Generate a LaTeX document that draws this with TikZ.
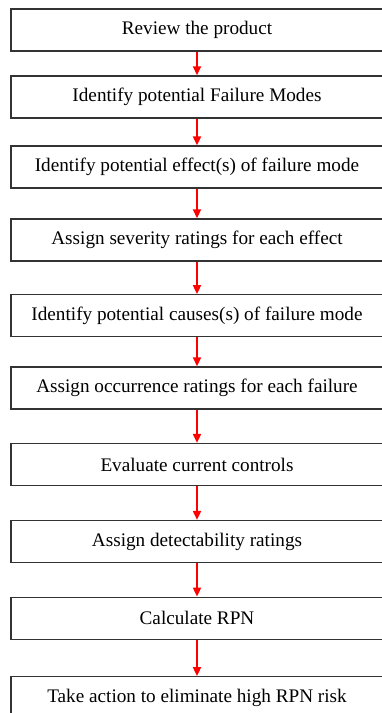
\documentclass[tikz,border=0pt]{standalone}
\usepackage{fontspec}
\setmainfont{Liberation Serif}
\usetikzlibrary{positioning,arrows.meta}
\tikzset{every picture/.style={line width=1.2pt}}
\tikzset{stepbox/.style={draw=black!80, rectangle, minimum width=372pt, minimum height=42pt, inner sep=0pt}}

\begin{document}
\begin{tikzpicture}[x=1pt, y=-1pt, >={Triangle[length=9pt, width=8pt]}, every node/.style={font=\fontsize{19.2}{22}\selectfont}]
        \useasboundingbox (0, 0) rectangle (381, 713);
        \node[stepbox] (review)   at (197, 30)    {Review the product};
        \node[stepbox] (modes)    at (197, 96.9)  {Identify potential Failure Modes};
        \node[stepbox] (effects)  at (197, 167)   {Identify potential effect(s) of failure mode};
        \node[stepbox] (severity) at (197, 239.9) {Assign severity ratings for each effect};
        \node[stepbox] (causes)   at (197, 315.7) {Identify potential causes(s) of failure mode};
        \node[stepbox] (occur)    at (197, 387.9) {Assign occurrence ratings for each failure};
        \node[stepbox] (controls) at (197, 464.5) {Evaluate current controls};
        \node[stepbox] (detect)   at (197, 541.5) {Assign detectability ratings};
        \node[stepbox] (rpn)      at (197, 618.2) {Calculate RPN};
        \node[stepbox] (action)   at (197, 697.7) {Take action to eliminate high RPN risk};
        \foreach \a/\b in {review/modes, modes/effects, effects/severity, severity/causes, causes/occur, occur/controls, controls/detect, detect/rpn, rpn/action}
            \draw[->, red, line width=1.8pt] (\a) -- (\b);
    \end{tikzpicture}
\end{document}
